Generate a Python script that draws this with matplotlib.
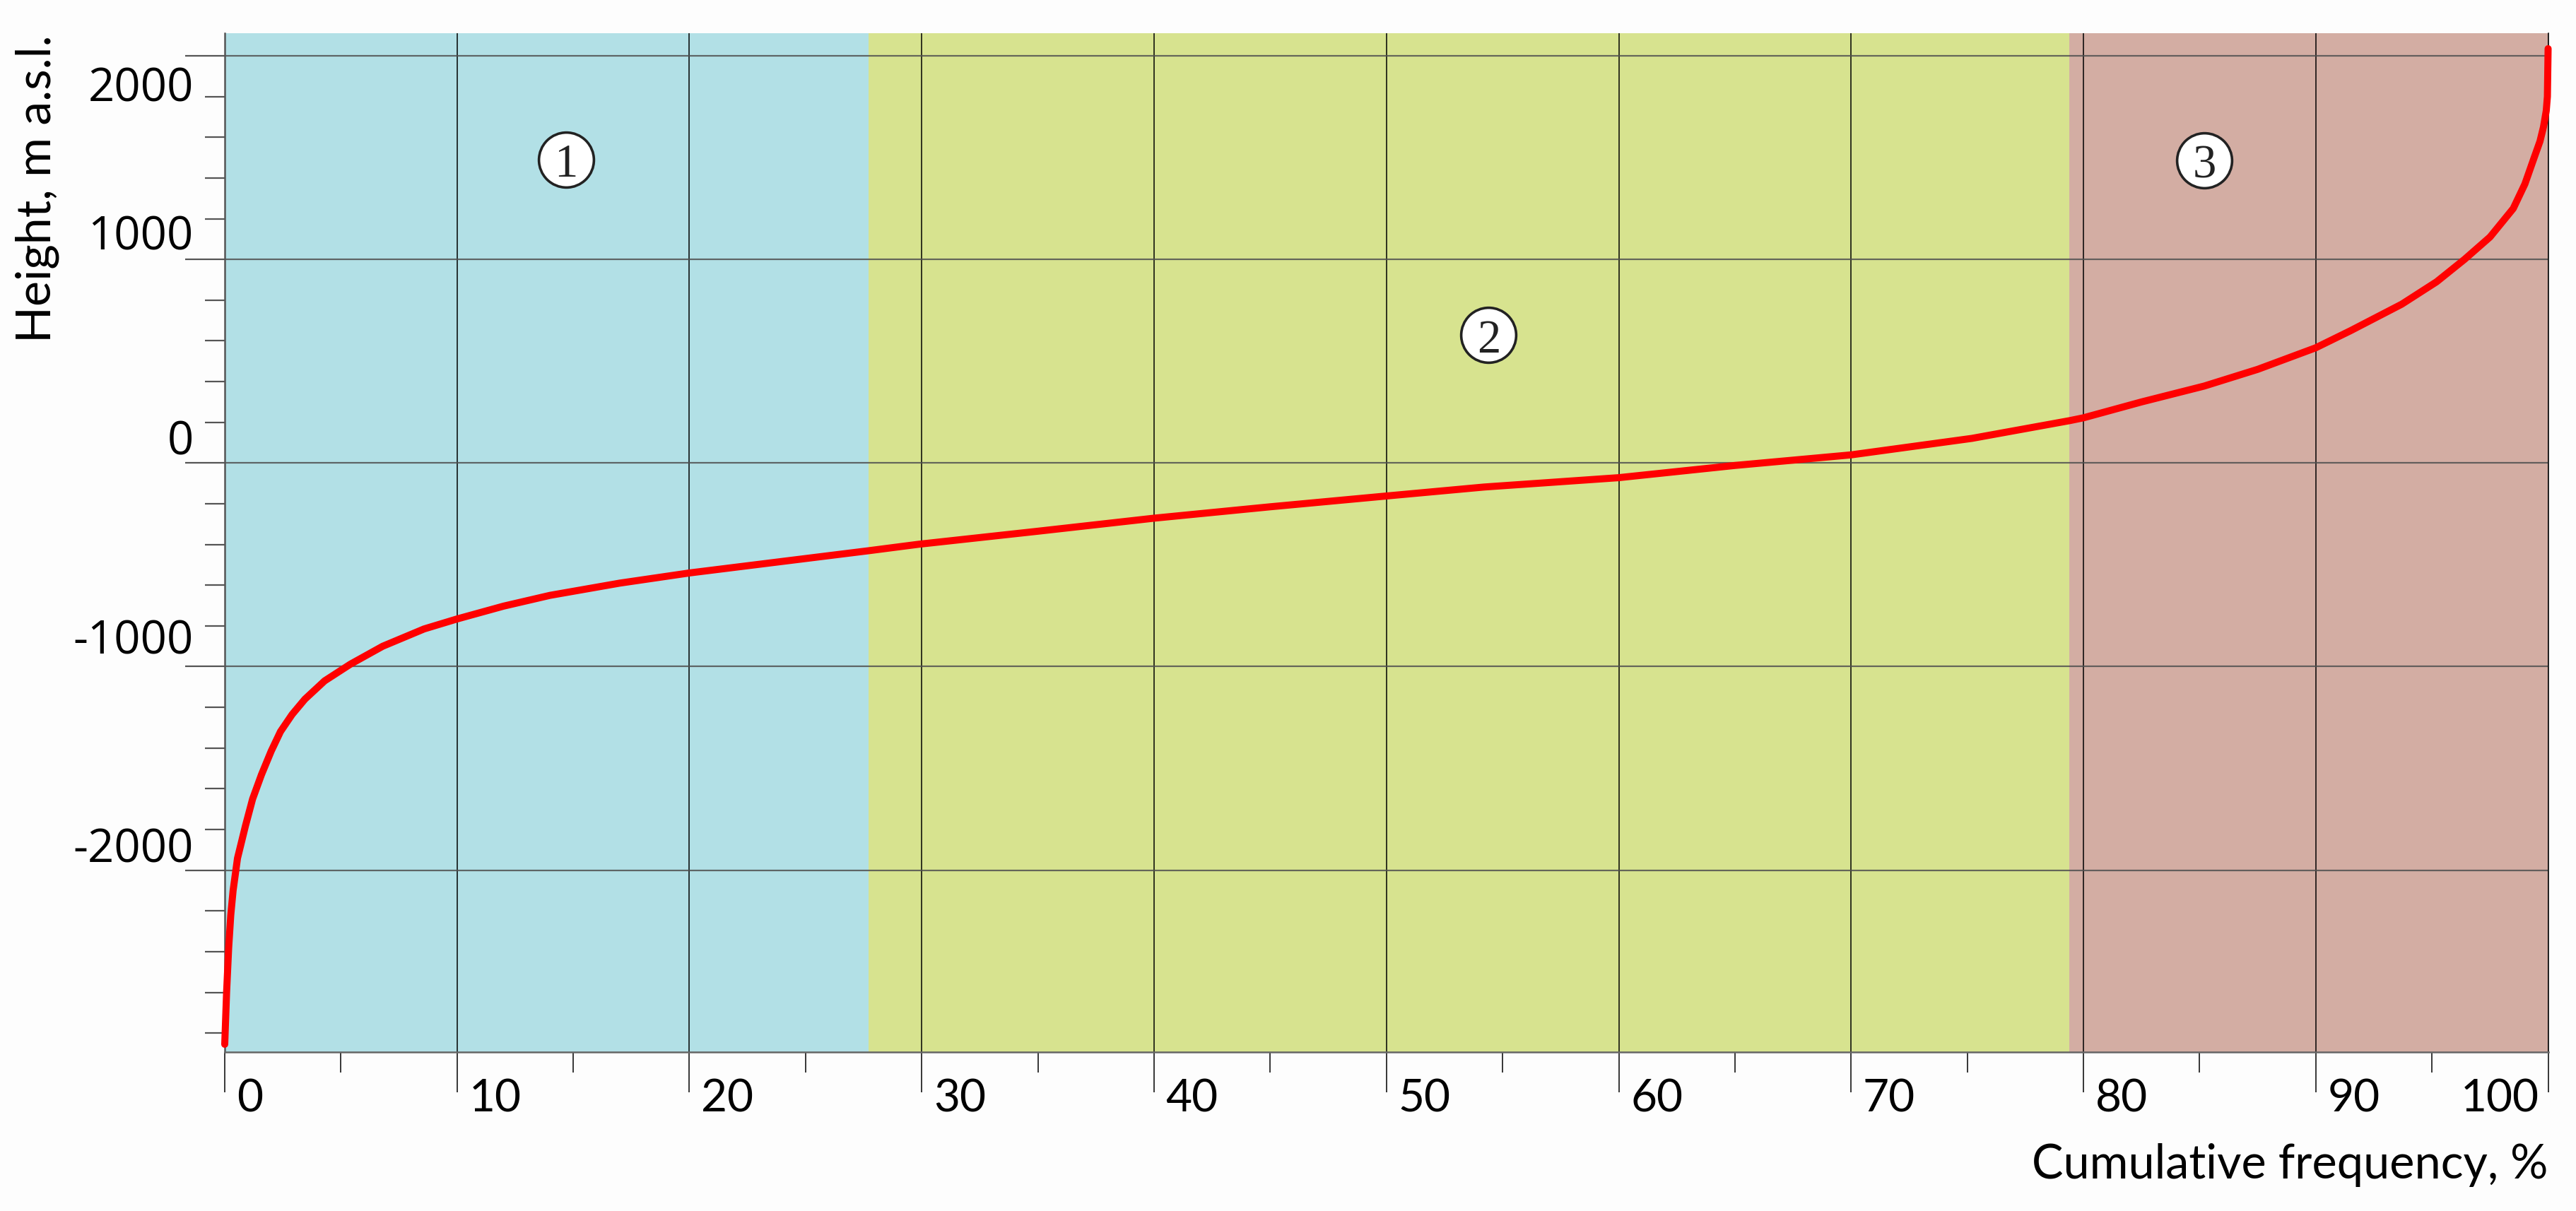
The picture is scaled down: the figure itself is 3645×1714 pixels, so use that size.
import matplotlib.pyplot as plt
from matplotlib.ticker import MultipleLocator, FixedLocator

# hypsometric curve: cumulative frequency (%) vs height (m a.s.l.)
freq = [0.0, 0.08, 0.17, 0.26, 0.36, 0.55, 0.89, 1.2, 1.58, 2.0, 2.4, 2.9, 3.45,
        4.3, 5.41, 6.8, 8.58, 10.0, 12.0, 14.0, 17.0, 20.0, 24.87, 27.7, 29.87,
        35.0, 40.0, 45.0, 50.0, 54.2, 60.0, 65.0, 70.0, 75.2, 79.4, 80.0, 82.5,
        85.2, 87.5, 90.0, 91.5, 93.7, 95.2, 96.4, 97.5, 98.5, 99.0, 99.4, 99.65,
        99.8, 99.92, 99.97, 100.0]
height = [-2855, -2600, -2380, -2220, -2100, -1941, -1783, -1650, -1531, -1415,
          -1319, -1235, -1160, -1070, -988, -900, -815, -766, -703, -650, -590,
          -540, -471, -431, -399, -335, -271, -215, -162, -118, -72, -12, 40,
          121, 208, 222, 300, 378, 460, 566, 650, 780, 890, 1000, 1110, 1250,
          1370, 1500, 1580, 1650, 1730, 1800, 2035]

zone_edges = [0, 27.7, 79.4, 100]
zone_colors = ['#b2e0e6', '#d7e38f', '#d3ada3']
zone_names = ['1', '2', '3']
zone_label_x = [14.7, 54.4, 85.2]
zone_label_y = [1490, 628, 1486]

x_ticks = list(range(0, 101, 10))
x_tick_labels = [str(v) for v in x_ticks]
y_ticks = [-2000, -1000, 0, 1000, 2000]
y_tick_labels = ['-2000', '-1000', '0', '1000', '2000']
# the printed y labels do not sit exactly on their grid lines in the original
y_label_at = [-1958, -934, 45, 1052, 1781]

fig = plt.figure(figsize=(36.45, 17.15), dpi=100, facecolor='#fdfdfd')
ax = fig.add_axes([0.08724, 0.1312, 0.90193, 0.84081])
ax.set_xlim(0, 100)
ax.set_ylim(-2893, 2111)

for lo, hi, c in zip(zone_edges[:-1], zone_edges[1:], zone_colors):
    ax.axvspan(lo, hi, color=c, lw=0, zorder=0)

ax.xaxis.set_major_locator(FixedLocator(x_ticks))
ax.xaxis.set_minor_locator(MultipleLocator(5))
ax.yaxis.set_major_locator(FixedLocator(y_ticks))
ax.yaxis.set_minor_locator(MultipleLocator(200))
ax.tick_params(labelbottom=False, labelleft=False)
ax.tick_params(axis='x', which='major', length=41, width=1.1, color='black', direction='out')
ax.tick_params(axis='x', which='minor', length=21, width=1.1, color='black', direction='out')
ax.tick_params(axis='y', which='major', length=40, width=1.6, color='#555555', direction='out')
ax.tick_params(axis='y', which='minor', length=20, width=1.6, color='#555555', direction='out')
ax.grid(axis='x', which='major', color='black', lw=1.1, zorder=1)
ax.grid(axis='y', which='major', color='#505050', lw=1.6, alpha=0.85, zorder=1)
ax.set_axisbelow(True)

ax.spines['top'].set_visible(False)
ax.spines['right'].set_color('black')
ax.spines['right'].set_linewidth(1.1)
ax.spines['left'].set_color('#555555')
ax.spines['left'].set_linewidth(1.8)
ax.spines['bottom'].set_color('#666666')
ax.spines['bottom'].set_linewidth(1.8)

ax.plot(freq, height, color='#ff0000', lw=7.2, solid_capstyle='round',
        solid_joinstyle='round', zorder=5, clip_on=False)

ax.plot(zone_label_x, zone_label_y, 'o', ms=56, mfc='white', mec='#222222', mew=2.6, ls='none', zorder=6)
for x, y, name in zip(zone_label_x, zone_label_y, zone_names):
    ax.text(x, y, name, ha='center', va='center_baseline', fontsize=48,
            family='Liberation Serif', color='#222222', zorder=7)

for v, lab in zip(x_ticks, x_tick_labels):
    if v == 100:
        # last label sits to the left of its tick
        ax.annotate(lab, xy=(v, 0), xycoords=('data', 'axes fraction'), xytext=(-9, -60),
                    textcoords='offset points', ha='right', va='baseline', fontsize=46, family='Lato')
    else:
        ax.annotate(lab, xy=(v, 0), xycoords=('data', 'axes fraction'), xytext=(12, -60),
                    textcoords='offset points', ha='left', va='baseline', fontsize=46, family='Lato')
for v, lab in zip(y_label_at, y_tick_labels):
    ax.annotate(lab, xy=(0, v), xycoords=('axes fraction', 'data'), xytext=(-31.7, 0),
                textcoords='offset points', ha='right', va='baseline', fontsize=47, family='Open Sans')

fig.text(72 / 3645, 1 - 267 / 1715, 'Height, m a.s.l.', rotation=90, rotation_mode='anchor',
         ha='center', va='baseline', fontsize=49, family='Lato')
fig.text(3605 / 3645, 1 - 1668 / 1715, 'Cumulative frequency, %', ha='right', va='baseline',
         fontsize=48, family='Lato')

fig.savefig('out.png', dpi=100, facecolor=fig.get_facecolor())
